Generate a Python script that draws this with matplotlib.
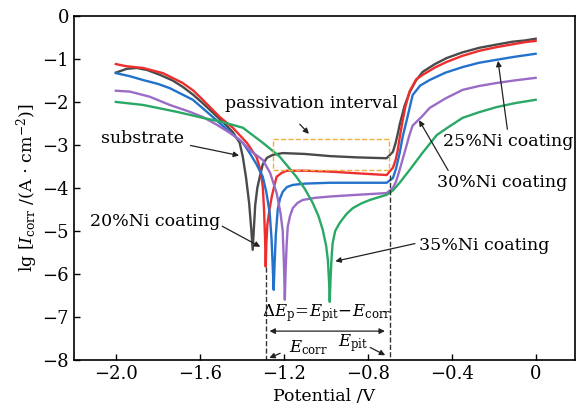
import matplotlib
matplotlib.use("Agg")
import matplotlib.pyplot as plt

plt.rcParams['font.family'] = 'DejaVu Serif'
plt.rcParams['mathtext.fontset'] = 'dejavuserif'

# polarization curves: potential (V) vs lg current density
sub_x = [-2.0, -1.948, -1.90, -1.85, -1.79, -1.73, -1.681, -1.63, -1.586, -1.54, -1.49, -1.443,
         -1.41, -1.395, -1.38, -1.365, -1.355, -1.348, -1.343, -1.336, -1.326, -1.314, -1.30,
         -1.28, -1.252, -1.205, -1.10, -0.98, -0.85, -0.71, -0.68, -0.667, -0.655, -0.648,
         -0.625, -0.60, -0.57, -0.538, -0.48, -0.424, -0.35, -0.267, -0.19, -0.11, -0.05, 0.0]
sub_y = [-1.32, -1.23, -1.21, -1.26, -1.37, -1.50, -1.65, -1.84, -2.03, -2.24, -2.47, -2.70,
         -2.95, -3.28, -3.75, -4.35, -4.95, -5.44, -5.00, -4.40, -4.00, -3.74, -3.45,
         -3.30, -3.23, -3.19, -3.21, -3.26, -3.29, -3.31, -3.16, -2.95, -2.70, -2.53,
         -2.10, -1.77, -1.50, -1.30, -1.12, -0.98, -0.85, -0.74, -0.67, -0.60, -0.57, -0.53]

ni20_x = [-2.0, -1.95, -1.871, -1.776, -1.681, -1.63, -1.586, -1.505, -1.443, -1.376, -1.33,
          -1.31, -1.30, -1.294, -1.289, -1.286, -1.283, -1.278, -1.268, -1.257, -1.245, -1.234,
          -1.21, -1.186, -1.10, -0.98, -0.85, -0.71, -0.68, -0.667, -0.657, -0.645, -0.633,
          -0.62, -0.60, -0.57, -0.538, -0.48, -0.424, -0.35, -0.267, -0.19, -0.11, -0.05, 0.0]
ni20_y = [-1.12, -1.17, -1.21, -1.33, -1.56, -1.74, -1.95, -2.35, -2.60, -2.95, -3.28,
          -3.60, -3.97, -4.50, -5.20, -5.83, -5.30, -4.85, -4.50, -4.20, -3.95, -3.74,
          -3.65, -3.60, -3.60, -3.62, -3.66, -3.70, -3.53, -3.35, -3.12, -2.75, -2.42,
          -2.10, -1.75, -1.48, -1.37, -1.20, -1.07, -0.93, -0.81, -0.73, -0.66, -0.61, -0.58]

ni25_x = [-2.0, -1.935, -1.871, -1.80, -1.743, -1.633, -1.538, -1.457, -1.395, -1.362, -1.33,
          -1.30, -1.283, -1.267, -1.258, -1.252, -1.248, -1.244, -1.238, -1.229, -1.218, -1.205,
          -1.185, -1.157, -1.10, -0.98, -0.85, -0.71, -0.68, -0.665, -0.648, -0.633, -0.614,
          -0.586, -0.55, -0.505, -0.43, -0.348, -0.27, -0.186, -0.10, 0.0]
ni25_y = [-1.33, -1.40, -1.49, -1.58, -1.68, -1.95, -2.35, -2.70, -2.95, -3.19, -3.45,
          -3.74, -4.10, -4.58, -5.20, -5.90, -6.37, -5.80, -5.10, -4.51, -4.25, -4.09,
          -3.98, -3.93, -3.90, -3.88, -3.88, -3.88, -3.77, -3.55, -3.19, -2.80, -2.42,
          -1.84, -1.62, -1.49, -1.32, -1.19, -1.09, -1.02, -0.95, -0.88]

ni30_x = [-2.0, -1.933, -1.838, -1.743, -1.648, -1.586, -1.519, -1.457, -1.41, -1.362, -1.30,
          -1.265, -1.234, -1.215, -1.205, -1.199, -1.195, -1.191, -1.186, -1.181, -1.17, -1.157,
          -1.135, -1.11, -1.05, -0.98, -0.85, -0.71, -0.68, -0.665, -0.648, -0.62, -0.60,
          -0.586, -0.54, -0.505, -0.43, -0.348, -0.27, -0.186, -0.10, 0.0]
ni30_y = [-1.74, -1.76, -1.88, -2.07, -2.23, -2.35, -2.53, -2.72, -2.88, -3.12, -3.35,
          -3.65, -4.12, -4.60, -5.00, -5.80, -6.60, -5.90, -5.30, -4.90, -4.65, -4.47,
          -4.35, -4.28, -4.23, -4.20, -4.16, -4.12, -4.00, -3.85, -3.58, -3.10, -2.75,
          -2.55, -2.33, -2.14, -1.92, -1.72, -1.63, -1.56, -1.50, -1.44]

ni35_x = [-2.0, -1.871, -1.71, -1.586, -1.49, -1.395, -1.30, -1.22, -1.14, -1.10, -1.062,
          -1.035, -1.014, -0.998, -0.99, -0.984, -0.981, -0.977, -0.972, -0.967, -0.955, -0.933,
          -0.90, -0.871, -0.83, -0.79, -0.75, -0.71, -0.68, -0.648, -0.60, -0.54, -0.471,
          -0.42, -0.348, -0.27, -0.186, -0.10, 0.0]
ni35_y = [-2.00, -2.07, -2.23, -2.37, -2.47, -2.60, -2.95, -3.27, -3.74, -4.02, -4.35,
          -4.65, -4.98, -5.35, -5.67, -6.20, -6.65, -6.10, -5.60, -5.28, -5.00, -4.81,
          -4.60, -4.47, -4.36, -4.28, -4.22, -4.16, -4.06, -3.88, -3.58, -3.19, -2.77,
          -2.60, -2.37, -2.24, -2.12, -2.03, -1.95]

# passivation region and characteristic potentials
box_x = [-1.252, -0.70]
box_y = [-3.58, -2.86]
e_corr = -1.286
e_pit = -0.695

fig = plt.figure(figsize=(5.77, 4.19), dpi=100)
ax = fig.add_axes([0.128, 0.141, 0.868, 0.821])

lw = 1.7
ax.plot(sub_x, sub_y, color='#4a4a4a', lw=lw)
ax.plot(ni20_x, ni20_y, color='#ee2d2d', lw=lw)
ax.plot(ni25_x, ni25_y, color='#2272cc', lw=lw)
ax.plot(ni30_x, ni30_y, color='#9a6cc8', lw=lw)
ax.plot(ni35_x, ni35_y, color='#2aa866', lw=lw)

# dashed helper lines
ax.plot([e_corr, e_corr], [-5.85, -8], ls='--', color='#333333', lw=1.0)
ax.plot([e_pit, e_pit], [-3.7, -8], ls='--', color='#333333', lw=1.0)
ax.plot([box_x[0], box_x[1], box_x[1], box_x[0], box_x[0]],
        [box_y[0], box_y[0], box_y[1], box_y[1], box_y[0]],
        ls='--', color='#f0b040', lw=1.0)

arrow = dict(arrowstyle='-|>', color='#222222', lw=0.9, mutation_scale=8)
fs = 12.5

ax.annotate('', xy=(e_corr + 0.005, -7.33), xytext=(e_pit - 0.01, -7.33),
            arrowprops=dict(arrowstyle='<|-|>', color='#222222', lw=0.9, mutation_scale=8))
ax.text(-0.995, -6.92, r'$\Delta E_{\mathrm{p}}\!=\!E_{\mathrm{pit}}\!-\!E_{\mathrm{corr}}$',
        ha='center', va='center', fontsize=12)
ax.text(-1.08, -7.72, r'$E_{\mathrm{corr}}$', ha='center', va='center', fontsize=12)
ax.annotate('', xy=(e_corr + 0.005, -7.98), xytext=(-1.205, -7.82), arrowprops=arrow)
ax.text(-0.87, -7.60, r'$E_{\mathrm{pit}}$', ha='center', va='center', fontsize=12)
ax.annotate('', xy=(e_pit - 0.01, -7.92), xytext=(-0.80, -7.68), arrowprops=arrow)

ax.text(-1.067, -2.03, 'passivation interval', ha='center', va='center', fontsize=fs)
ax.annotate('', xy=(-1.071, -2.79), xytext=(-1.133, -2.47), arrowprops=arrow)
ax.text(-1.871, -2.84, 'substrate', ha='center', va='center', fontsize=fs)
ax.annotate('', xy=(-1.40, -3.26), xytext=(-1.657, -3.0), arrowprops=arrow)
ax.text(-1.814, -4.79, '20%Ni coating', ha='center', va='center', fontsize=fs)
ax.annotate('', xy=(-1.30, -5.40), xytext=(-1.505, -4.86), arrowprops=arrow)
ax.text(-0.243, -5.33, '35%Ni coating', ha='center', va='center', fontsize=fs)
ax.annotate('', xy=(-0.967, -5.72), xytext=(-0.562, -5.28), arrowprops=arrow)
ax.text(-0.129, -2.93, '25%Ni coating', ha='center', va='center', fontsize=fs)
ax.annotate('', xy=(-0.181, -0.98), xytext=(-0.133, -2.70), arrowprops=arrow)
ax.text(-0.162, -3.88, '30%Ni coating', ha='center', va='center', fontsize=fs)
ax.annotate('', xy=(-0.562, -2.37), xytext=(-0.41, -3.65), arrowprops=arrow)

ax.set_xlim(-2.2, 0.186)
ax.set_ylim(-8, 0)
ax.set_xticks([-2.0, -1.6, -1.2, -0.8, -0.4, 0])
ax.set_xticklabels(['\u22122.0', '\u22121.6', '\u22121.2', '\u22120.8', '\u22120.4', '0'])
ax.set_yticks(range(-8, 1))
ax.set_yticklabels(['\u2212%d' % -v if v < 0 else '0' for v in range(-8, 1)])
ax.tick_params(direction='in', length=4, width=1.0, labelsize=13, top=False, right=False)
for s in ax.spines.values():
    s.set_linewidth(1.2)

ax.set_xlabel('Potential /V', fontsize=12.5, labelpad=4)
ax.set_ylabel(r'lg [$I_{\mathrm{corr}}$ /(A $\cdot$ cm$^{-2}$)]', fontsize=12.5, labelpad=2)

fig.savefig('out.png', dpi=100)
